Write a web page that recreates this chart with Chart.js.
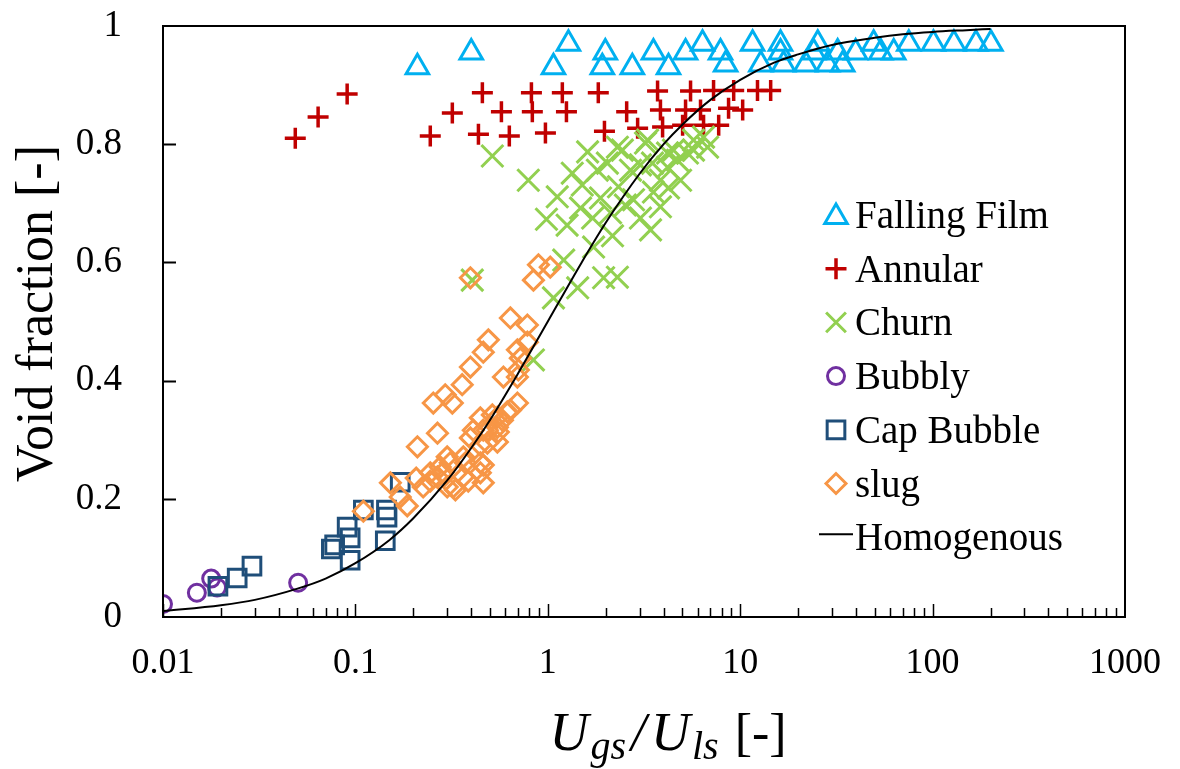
<!DOCTYPE html>
<html><head><meta charset="utf-8">
<script src="https://cdn.jsdelivr.net/npm/chart.js@4/dist/chart.umd.min.js"></script>
<style>html,body{margin:0;padding:0;background:#fff}#wrap{width:1180px;height:769px}</style>
</head><body><div id="wrap"><canvas id="c" width="1180" height="769"></canvas></div>
<script>
// ---- data ----
const fallingFilmX = [0.21,0.40,1.07,1.28,1.92,1.99,2.75,3.54,4.24,5.2,6.37,7.9,8.4,11.6,12.8,16.2,16.2,16.8,21.9,24.1,25.3,28.5,32.1,34.1,39.8,49.4,53.8,62.8,75.2,101,129,168,201];
const fallingFilmY = [0.93,0.955,0.93,0.97,0.93,0.955,0.93,0.955,0.93,0.955,0.97,0.955,0.935,0.97,0.935,0.97,0.955,0.935,0.935,0.955,0.97,0.935,0.955,0.935,0.955,0.97,0.955,0.955,0.97,0.97,0.97,0.97,0.97];

const annularX = [0.0487,0.064,0.0906,0.245,0.319,0.457,0.436,0.574,0.631,0.822,0.831,0.972,1.19,1.25,1.83,1.97,2.57,2.93,3.72,3.85,3.95,5.2,5.02,5.52,7.27,6.22,6.45,9.25,8.7,7.73,10.3,12.3,14.4];
const annularY = [0.81,0.846,0.885,0.814,0.853,0.887,0.817,0.855,0.814,0.887,0.855,0.819,0.887,0.855,0.887,0.822,0.855,0.827,0.89,0.858,0.829,0.858,0.832,0.89,0.891,0.858,0.832,0.891,0.861,0.832,0.858,0.891,0.891];

const churnX = [0.515,0.792,1.12,0.984,1.26,1.34,1.61,1.51,1.48,1.71,2.04,2.30,1.88,2.17,1.73,2.33,2.69,3.22,2.79,3.03,3.42,3.85,3.85,3.54,4.19,4.50,4.90,5.72,6.45,1.21,1.95,2.30,1.43,1.07,0.405,0.842,2.44,3.30,3.50,4.19,5.32,5.72,6.77,4.72,4.24,3.03,2.53,2.12,1.81];
const churnY = [0.780,0.739,0.711,0.673,0.663,0.751,0.787,0.731,0.692,0.675,0.768,0.795,0.709,0.645,0.626,0.728,0.756,0.802,0.706,0.675,0.655,0.739,0.694,0.719,0.761,0.790,0.739,0.790,0.812,0.604,0.574,0.575,0.557,0.540,0.570,0.435,0.790,0.807,0.768,0.785,0.785,0.807,0.795,0.773,0.726,0.765,0.697,0.684,0.756];

const bubblyX = [0.01,0.015,0.0178,0.0191,0.0504];
const bubblyY = [0.022,0.041,0.065,0.05,0.058];

const capBubbleX = [0.0193,0.0243,0.029,0.075,0.078,0.0906,0.0939,0.0939,0.110,0.145,0.146,0.143,0.171];
const capBubbleY = [0.052,0.066,0.086,0.115,0.122,0.152,0.134,0.096,0.181,0.181,0.169,0.129,0.228];

const slugX = [0.110,0.152,0.171,0.186,0.207,0.225,0.245,0.267,0.286,0.311,0.323,0.364,0.300,0.373,0.446,0.396,0.462,0.485,0.547,0.547,0.639,0.695,0.588,0.695,0.210,0.267,0.254,0.293,0.319,0.359,0.396,0.462,0.491,0.639,0.783,0.695,0.783,0.720,0.703,0.396,0.842,0.894,1.03,0.446,0.462,0.364,0.300,0.276,0.245,0.331,0.386,0.410,0.485,0.553,0.446,0.547,0.462,0.515,0.581,0.616,0.446];
const slugY = [0.179,0.227,0.203,0.188,0.235,0.220,0.230,0.237,0.245,0.261,0.220,0.237,0.220,0.261,0.261,0.303,0.316,0.294,0.321,0.338,0.350,0.362,0.406,0.406,0.288,0.311,0.362,0.376,0.362,0.393,0.423,0.448,0.469,0.506,0.494,0.452,0.465,0.438,0.418,0.574,0.570,0.596,0.592,0.244,0.227,0.271,0.271,0.254,0.244,0.215,0.230,0.316,0.316,0.313,0.291,0.296,0.257,0.342,0.333,0.347,0.337];

const homogenousX = [0.01,0.02,0.03,0.05,0.07,0.1,0.15,0.2,0.3,0.4,0.5,0.7,1,1.5,2,3,4,5,7,10,15,20,30,50,70,100,150,200];
const homogenousY = [0.01,0.02,0.029,0.048,0.065,0.091,0.13,0.167,0.231,0.286,0.333,0.412,0.5,0.6,0.667,0.75,0.8,0.833,0.875,0.909,0.938,0.952,0.968,0.98,0.986,0.99,0.993,0.995];

const xTickValues = [0.01,0.1,1,10,100,1000];
const xTickLabels = ['0.01','0.1','1','10','100','1000'];
const yTickLabels = ['0','0.2','0.4','0.6','0.8','1'];

// ---- styling ----
const SERIF = '"Liberation Serif","Times New Roman",serif';
const pts = (xs, ys) => xs.map((x, i) => ({x: x, y: ys[i]}));

const series = [
  {label:'Falling Film', xs:fallingFilmX, ys:fallingFilmY, color:'#00B0F0', style:'triangle', r:13, bw:3},
  {label:'Annular', xs:annularX, ys:annularY, color:'#C00000', style:'cross', r:10.5, bw:3.5},
  {label:'Churn', xs:churnX, ys:churnY, color:'#92D050', style:'crossRot', r:15.5, bw:3},
  {label:'Bubbly', xs:bubblyX, ys:bubblyY, color:'#7030A0', style:'circle', r:8.5, bw:3},
  {label:'Cap Bubble', xs:capBubbleX, ys:capBubbleY, color:'#1F4E79', style:'rect', r:12.5, bw:3},
  {label:'slug', xs:slugX, ys:slugY, color:'#F79646', style:'rectRot', r:10, bw:3}
];

const datasets = series.map((s, i) => ({
  label: s.label,
  data: pts(s.xs, s.ys),
  pointStyle: s.style,
  pointRadius: s.r,
  pointHoverRadius: s.r,
  pointBorderWidth: s.bw,
  pointBorderColor: s.color,
  pointBackgroundColor: 'rgba(0,0,0,0)',
  borderColor: s.color,
  backgroundColor: 'rgba(0,0,0,0)',
  showLine: false,
  order: 10 - i
}));
datasets.push({
  label: 'Homogenous',
  data: pts(homogenousX, homogenousY),
  showLine: true,
  borderColor: '#000',
  borderWidth: 2,
  pointRadius: 0,
  cubicInterpolationMode: 'monotone',
  fill: false,
  order: 0
});

function drawMarker(ctx, style, x, y, r) {
  ctx.beginPath();
  if (style === 'triangle') {
    for (let k = 0; k < 3; k++) {
      const a = k * 2 * Math.PI / 3;
      const px = x + Math.sin(a) * r, py = y - Math.cos(a) * r;
      if (k === 0) ctx.moveTo(px, py); else ctx.lineTo(px, py);
    }
    ctx.closePath();
  } else if (style === 'cross') {
    ctx.moveTo(x - r, y); ctx.lineTo(x + r, y);
    ctx.moveTo(x, y - r); ctx.lineTo(x, y + r);
  } else if (style === 'crossRot') {
    const o = r * Math.SQRT1_2;
    ctx.moveTo(x - o, y - o); ctx.lineTo(x + o, y + o);
    ctx.moveTo(x + o, y - o); ctx.lineTo(x - o, y + o);
  } else if (style === 'circle') {
    ctx.arc(x, y, r, 0, Math.PI * 2);
  } else if (style === 'rect') {
    const h = r * Math.SQRT1_2;
    ctx.rect(x - h, y - h, 2 * h, 2 * h);
  } else if (style === 'rectRot') {
    ctx.moveTo(x - r, y); ctx.lineTo(x, y - r); ctx.lineTo(x + r, y); ctx.lineTo(x, y + r);
    ctx.closePath();
  }
  ctx.stroke();
}

const decorPlugin = {
  id: 'decor',
  afterDraw(chart) {
    const ctx = chart.ctx;
    const a = chart.chartArea;
    const xs = chart.scales.x, ys = chart.scales.y;
    ctx.save();
    ctx.strokeStyle = '#000';
    ctx.lineWidth = 2;
    ctx.strokeRect(a.left, a.top, a.right - a.left, a.bottom - a.top);
    // inward ticks on x axis
    ctx.lineWidth = 1.5;
    ctx.beginPath();
    for (let e = -2; e <= 2; e++) {
      for (let m = 1; m <= 9; m++) {
        const v = m * Math.pow(10, e);
        const px = Math.round(xs.getPixelForValue(v)) + 0.5;
        const len = m === 1 ? 13 : 9;
        ctx.moveTo(px, a.bottom); ctx.lineTo(px, a.bottom - len);
      }
    }
    ctx.stroke();
    // inward ticks on y axis
    ctx.lineWidth = 2;
    ctx.beginPath();
    for (let k = 1; k < 5; k++) {
      const py = Math.round(ys.getPixelForValue(k * 0.2)) + 0.5;
      ctx.moveTo(a.left, py); ctx.lineTo(a.left + 13, py);
    }
    ctx.stroke();

    // y title
    ctx.fillStyle = '#000';
    ctx.save();
    ctx.translate(52, (a.top + a.bottom) / 2 - 8);
    ctx.rotate(-Math.PI / 2);
    ctx.font = '52px ' + SERIF;
    ctx.textAlign = 'center';
    ctx.textBaseline = 'alphabetic';
    ctx.fillText('Void fraction [-]', 0, 0);
    ctx.restore();

    // x title with subscripts
    const parts = [
      {t:'U', f:'italic 54px ' + SERIF, dy:0, gap:2},
      {t:'gs', f:'italic 40px ' + SERIF, dy:9, gap:5},
      {t:'/', f:'italic 54px ' + SERIF, dy:0, gap:5},
      {t:'U', f:'italic 54px ' + SERIF, dy:0, gap:2},
      {t:'ls', f:'italic 40px ' + SERIF, dy:9, gap:16},
      {t:'[-]', f:'52px ' + SERIF, dy:0, gap:0}
    ];
    let total = 0;
    parts.forEach(p => { ctx.font = p.f; p.w = ctx.measureText(p.t).width; total += p.w + p.gap; });
    let cx = 668 - total / 2;
    ctx.textAlign = 'left';
    ctx.textBaseline = 'alphabetic';
    parts.forEach(p => { ctx.font = p.f; ctx.fillText(p.t, cx, 750 + p.dy); cx += p.w + p.gap; });

    // legend
    const lx = 836, ly0 = 215, dyRow = 53.7;
    ctx.font = '39px ' + SERIF;
    series.forEach((s, i) => {
      const y = ly0 + i * dyRow;
      ctx.strokeStyle = s.color;
      ctx.lineWidth = s.bw;
      drawMarker(ctx, s.style, lx, y + (s.style === 'triangle' ? 2 : 0), s.style === 'crossRot' ? 14 : s.r);
      ctx.fillStyle = '#000';
      ctx.fillText(s.label, 855, y + 13);
    });
    const yh = ly0 + 6 * dyRow;
    ctx.strokeStyle = '#000';
    ctx.lineWidth = 2;
    ctx.beginPath(); ctx.moveTo(819, yh - 3); ctx.lineTo(853, yh - 3); ctx.stroke();
    ctx.fillText('Homogenous', 855, yh + 13);
    ctx.restore();
  }
};

new Chart(document.getElementById('c'), {
  type: 'scatter',
  data: { datasets: datasets },
  options: {
    responsive: false,
    animation: false,
    devicePixelRatio: 1,
    layout: { padding: { top: 26, right: 55, left: 0, bottom: 0 } },
    plugins: { legend: { display: false }, tooltip: { enabled: false } },
    scales: {
      x: {
        type: 'logarithmic',
        min: 0.01, max: 1000,
        grid: { display: true, drawOnChartArea: false, drawTicks: true, tickLength: 20, tickColor: 'rgba(0,0,0,0)', color: 'rgba(0,0,0,0)' },
        border: { display: false },
        afterBuildTicks: s => { s.ticks = xTickValues.map(v => ({ value: v })); },
        afterFit: s => { s.height = 152; },
        ticks: {
          autoSkip: false, maxRotation: 0, padding: 5, color: '#000',
          font: { family: SERIF, size: 36 },
          callback: (v) => { const i = xTickValues.indexOf(v); return i >= 0 ? xTickLabels[i] : ''; }
        }
      },
      y: {
        min: 0, max: 1,
        grid: { display: true, drawOnChartArea: false, drawTicks: true, tickLength: 38, tickColor: 'rgba(0,0,0,0)', color: 'rgba(0,0,0,0)' },
        border: { display: false },
        afterFit: s => { s.width = 163; },
        ticks: {
          stepSize: 0.2, padding: 3, color: '#000',
          font: { family: SERIF, size: 37 },
          callback: (v) => yTickLabels[Math.round(v / 0.2)]
        }
      }
    }
  },
  plugins: [decorPlugin]
});
</script>
</body></html>
